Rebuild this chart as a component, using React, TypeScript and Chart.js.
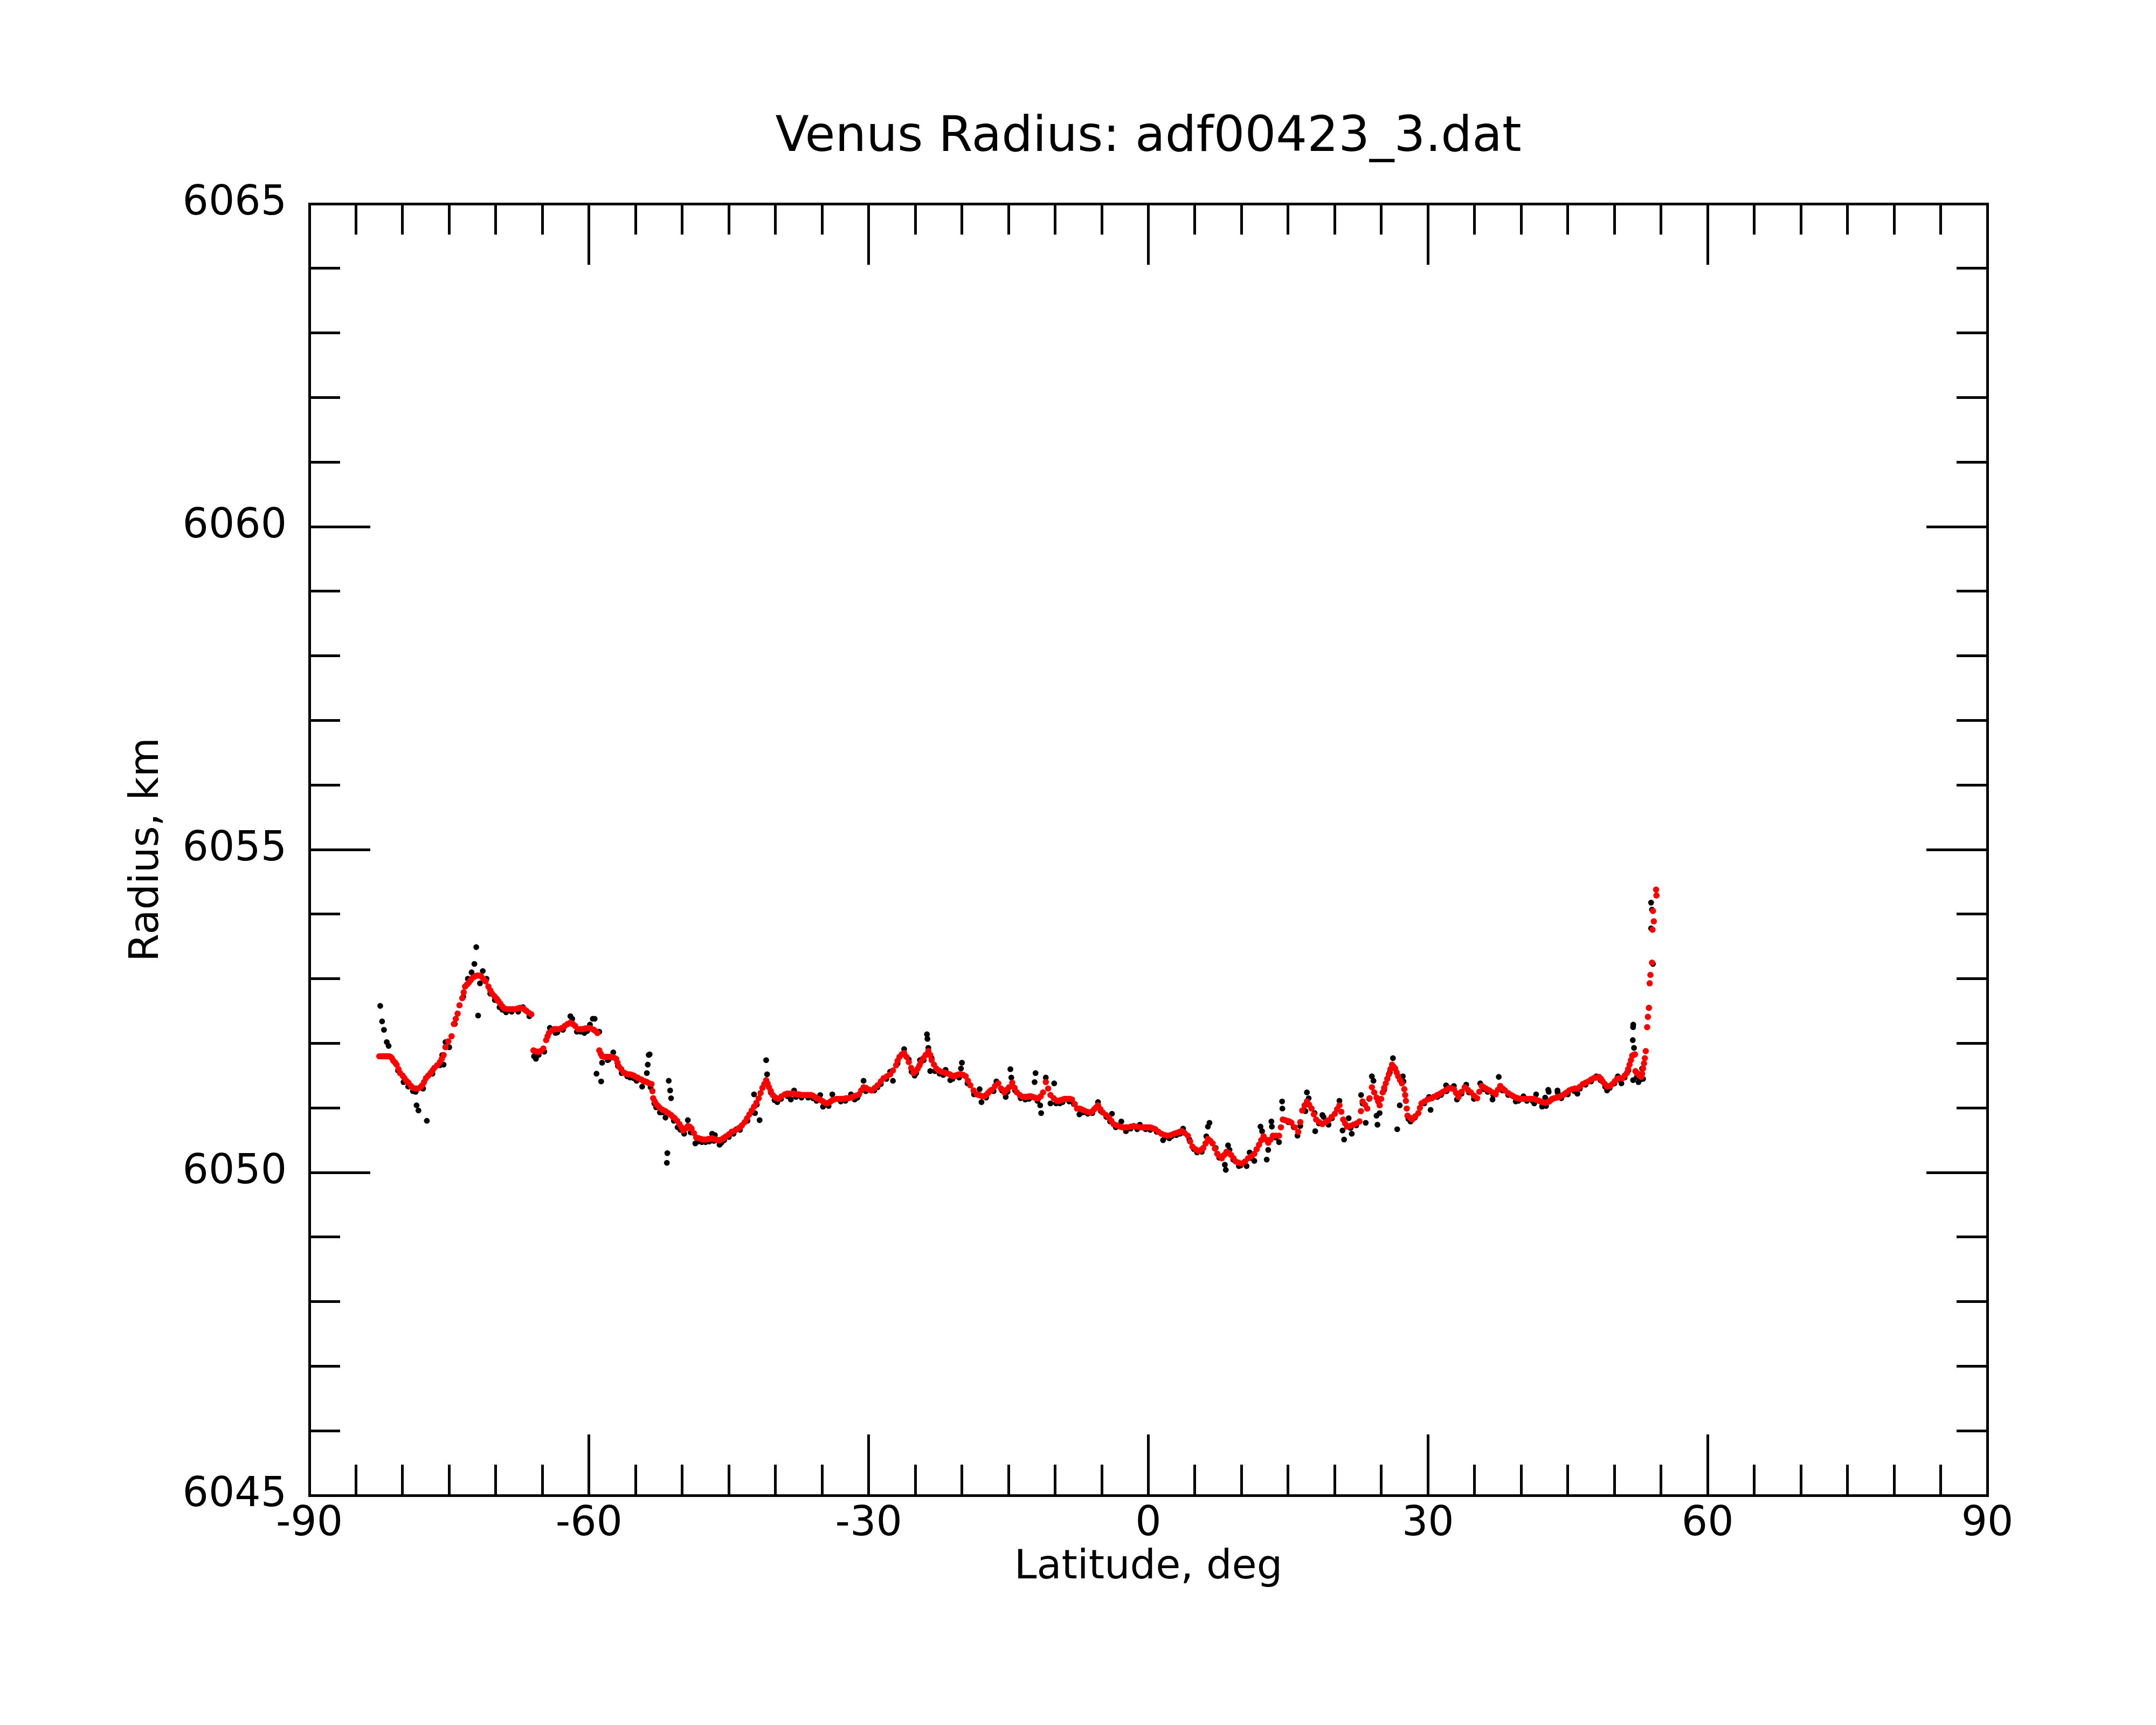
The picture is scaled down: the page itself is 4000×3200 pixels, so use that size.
import React, { useEffect, useRef } from 'react';
import { Chart, registerables } from 'chart.js';

Chart.register(...registerables);

const chartTitle = 'Venus Radius: adf00423_3.dat';
const xAxisTitle = 'Latitude, deg';
const yAxisTitle = 'Radius, km';

const xRange = [-90, 90];
const yRange = [6045, 6065];
const xMajorTicks = [-90, -60, -30, 0, 30, 60, 90];
const xMinorTicks = [-85, -80, -75, -70, -65, -55, -50, -45, -40, -35, -25, -20, -15, -10, -5, 5, 10, 15, 20, 25, 35, 40, 45, 50, 55, 65, 70, 75, 80, 85];
const yMajorTicks = [6045, 6050, 6055, 6060, 6065];
const yMinorTicks = [6046, 6047, 6048, 6049, 6051, 6052, 6053, 6054, 6056, 6057, 6058, 6059, 6061, 6062, 6063, 6064];

// smoothed radius (red), [latitude, radius]
const smoothedPoints: [number, number][] = [
  [-82.5, 6051.80], [-82.2, 6051.80], [-81.9, 6051.80], [-81.6, 6051.80], [-81.3, 6051.79], [-81.0, 6051.73],
  [-80.65, 6051.67], [-80.27, 6051.54], [-79.8, 6051.46], [-79.38, 6051.39], [-78.9, 6051.31], [-78.35, 6051.30],
  [-77.9, 6051.35], [-77.5, 6051.46], [-77.0, 6051.54], [-76.6, 6051.62], [-76.0, 6051.71], [-75.6, 6051.82],
  [-75.4, 6051.94], [-75.1, 6052.03], [-74.75, 6052.11], [-74.5, 6052.30], [-74.1, 6052.46], [-73.9, 6052.59],
  [-73.6, 6052.70], [-73.3, 6052.88], [-72.9, 6052.94], [-72.45, 6053.02], [-72.0, 6053.05], [-71.6, 6053.04],
  [-71.1, 6052.96], [-70.8, 6052.88], [-70.4, 6052.77], [-69.9, 6052.69], [-69.5, 6052.61], [-69.1, 6052.54],
  [-68.5, 6052.53], [-67.9, 6052.53], [-67.4, 6052.55], [-67.1, 6052.54], [-66.7, 6052.50], [-66.2, 6052.45],
  [-65.96, 6051.89], [-65.6, 6051.87], [-65.2, 6051.88], [-64.9, 6051.92], [-64.6, 6052.05], [-64.3, 6052.16],
  [-63.75, 6052.22], [-63.2, 6052.22], [-62.6, 6052.27], [-62.0, 6052.32], [-61.5, 6052.27], [-61.2, 6052.22],
  [-60.65, 6052.22], [-60.1, 6052.24], [-59.5, 6052.21], [-59.1, 6052.16], [-58.9, 6051.89], [-58.6, 6051.80],
  [-58.1, 6051.79], [-57.6, 6051.79], [-57.1, 6051.76], [-56.8, 6051.64], [-56.3, 6051.55], [-55.8, 6051.52],
  [-55.4, 6051.51], [-55.0, 6051.48], [-54.6, 6051.45], [-54.2, 6051.42], [-53.8, 6051.40], [-53.3, 6051.37],
  [-53.2, 6051.26], [-53.12, 6051.15], [-52.8, 6051.06], [-52.4, 6051.00], [-51.8, 6050.95], [-51.2, 6050.89],
  [-50.8, 6050.84], [-50.3, 6050.75], [-49.9, 6050.65], [-49.4, 6050.72], [-49.0, 6050.68], [-48.5, 6050.54],
  [-48.0, 6050.52], [-47.6, 6050.51], [-47.2, 6050.52], [-46.8, 6050.53], [-46.4, 6050.51], [-46.0, 6050.50],
  [-45.6, 6050.53], [-45.3, 6050.56], [-44.7, 6050.63], [-44.0, 6050.68], [-43.6, 6050.73], [-43.3, 6050.78],
  [-42.8, 6050.90], [-42.3, 6051.02], [-41.8, 6051.15], [-41.4, 6051.31], [-41.0, 6051.43], [-40.7, 6051.32],
  [-40.3, 6051.20], [-39.7, 6051.14], [-39.0, 6051.21], [-38.5, 6051.22], [-38.0, 6051.22], [-37.5, 6051.21],
  [-37.0, 6051.20], [-36.6, 6051.20], [-36.2, 6051.20], [-35.8, 6051.17], [-35.4, 6051.14], [-34.9, 6051.10],
  [-34.5, 6051.07], [-34.1, 6051.10], [-33.7, 6051.13], [-33.2, 6051.14], [-32.7, 6051.14], [-32.2, 6051.15],
  [-31.7, 6051.17], [-31.05, 6051.21], [-30.55, 6051.32], [-30.1, 6051.29], [-29.7, 6051.27], [-29.05, 6051.35],
  [-28.4, 6051.46], [-27.7, 6051.52], [-27.06, 6051.66], [-26.7, 6051.79], [-26.2, 6051.85], [-25.7, 6051.71],
  [-25.2, 6051.54], [-24.74, 6051.61], [-24.4, 6051.71], [-23.9, 6051.82], [-23.6, 6051.88], [-23.25, 6051.74],
  [-22.75, 6051.61], [-22.2, 6051.56], [-21.75, 6051.54], [-21.3, 6051.52], [-20.9, 6051.49], [-20.5, 6051.51],
  [-20.1, 6051.52], [-19.6, 6051.49], [-19.1, 6051.35], [-18.4, 6051.21], [-18.0, 6051.19], [-17.6, 6051.18],
  [-17.2, 6051.23], [-16.8, 6051.28], [-16.1, 6051.38], [-15.45, 6051.24], [-14.95, 6051.32], [-14.6, 6051.39],
  [-14.1, 6051.24], [-13.45, 6051.17], [-13.0, 6051.17], [-12.6, 6051.18], [-12.2, 6051.16], [-11.8, 6051.15],
  [-11.3, 6051.24], [-11.0, 6051.40], [-10.5, 6051.20], [-9.8, 6051.11], [-9.4, 6051.12], [-9.0, 6051.14],
  [-8.6, 6051.14], [-8.2, 6051.13], [-7.65, 6050.99], [-7.2, 6050.98], [-6.9, 6050.96], [-6.2, 6050.93],
  [-5.8, 6050.98], [-5.4, 6051.04], [-4.9, 6050.93], [-4.23, 6050.85], [-3.73, 6050.75], [-3.07, 6050.71],
  [-2.6, 6050.70], [-2.24, 6050.70], [-1.58, 6050.72], [-0.91, 6050.70], [-0.5, 6050.70], [-0.08, 6050.70],
  [0.35, 6050.69], [0.75, 6050.67], [1.41, 6050.60], [2.07, 6050.57], [2.74, 6050.60], [3.2, 6050.62],
  [3.57, 6050.64], [4.23, 6050.57], [4.73, 6050.40], [5.39, 6050.33], [5.89, 6050.38], [6.39, 6050.52],
  [6.89, 6050.45], [7.39, 6050.29], [7.88, 6050.22], [8.38, 6050.32], [8.88, 6050.27], [9.38, 6050.17],
  [10.04, 6050.14], [10.7, 6050.22], [11.37, 6050.29], [11.87, 6050.43], [12.36, 6050.56], [12.86, 6050.46],
  [13.36, 6050.57], [14.02, 6050.57], [14.42, 6050.82], [14.9, 6050.80], [15.35, 6050.77], [16.08, 6050.63],
  [16.51, 6050.96], [17.01, 6051.10], [17.5, 6050.99], [18.0, 6050.82], [18.67, 6050.75], [19.33, 6050.81],
  [20.0, 6050.91], [20.5, 6051.04], [20.9, 6050.82], [21.3, 6050.71], [21.99, 6050.74], [22.65, 6050.79],
  [22.98, 6051.10], [23.48, 6050.99], [23.98, 6051.32], [24.48, 6051.16], [24.81, 6051.04], [25.14, 6051.24],
  [25.47, 6051.38], [25.8, 6051.52], [26.14, 6051.67], [26.47, 6051.61], [26.8, 6051.49], [27.2, 6051.38],
  [27.46, 6051.29], [27.63, 6051.11], [27.8, 6050.88], [28.3, 6050.82], [28.96, 6050.92], [29.3, 6051.07],
  [29.95, 6051.13], [30.4, 6051.15], [30.78, 6051.18], [31.2, 6051.21], [31.61, 6051.25], [32.28, 6051.31],
  [32.78, 6051.29], [33.27, 6051.17], [33.94, 6051.32], [34.6, 6051.24], [35.27, 6051.15], [35.76, 6051.34],
  [36.2, 6051.30], [36.59, 6051.27], [37.26, 6051.21], [37.75, 6051.34], [38.25, 6051.27], [38.92, 6051.20],
  [39.4, 6051.16], [39.91, 6051.14], [40.4, 6051.14], [40.91, 6051.14], [41.4, 6051.14], [41.9, 6051.11],
  [42.3, 6051.09], [42.57, 6051.08], [43.0, 6051.10], [43.33, 6051.14], [43.8, 6051.16], [44.11, 6051.17],
  [44.5, 6051.20], [44.88, 6051.24], [45.45, 6051.29], [46.03, 6051.30], [46.61, 6051.37], [47.19, 6051.41],
  [47.77, 6051.46], [48.35, 6051.48], [48.73, 6051.41], [49.21, 6051.33], [49.79, 6051.37], [50.27, 6051.45],
  [50.85, 6051.46], [51.33, 6051.54], [51.62, 6051.67], [51.91, 6051.81], [52.2, 6051.83], [52.25, 6051.57],
  [52.49, 6051.53], [52.87, 6051.48], [53.07, 6051.61], [53.26, 6051.77], [53.36, 6051.88], [53.51, 6052.25],
  [53.59, 6052.41], [53.7, 6052.55], [53.78, 6052.93], [53.86, 6053.06], [54.03, 6053.25], [54.08, 6053.76],
  [54.13, 6054.05], [54.22, 6053.89], [54.47, 6054.38], [54.51, 6054.29],
];

// further smoothed samples read between the ones above (red)
const smoothedInBetween: [number, number][] = [
  [-82.35, 6051.80], [-82.05, 6051.80], [-81.75, 6051.80], [-81.45, 6051.80], [-81.15, 6051.77], [-80.8, 6051.70],
  [-80.45, 6051.60], [-80.0, 6051.50], [-79.6, 6051.42], [-79.1, 6051.34], [-78.6, 6051.30], [-78.1, 6051.32],
  [-77.7, 6051.40], [-77.25, 6051.50], [-76.8, 6051.58], [-76.3, 6051.66], [-75.8, 6051.76], [-74.3, 6052.38],
  [-73.45, 6052.79], [-73.1, 6052.91], [-72.7, 6052.98], [-72.2, 6053.04], [-71.8, 6053.05], [-71.35, 6053.00],
  [-70.6, 6052.82], [-70.15, 6052.73], [-69.7, 6052.65], [-69.3, 6052.57], [-68.8, 6052.53], [-68.2, 6052.53],
  [-67.65, 6052.54], [-66.9, 6052.52], [-66.45, 6052.47], [-65.8, 6051.88], [-65.4, 6051.87], [-64.45, 6052.11],
  [-64.0, 6052.20], [-63.5, 6052.22], [-62.9, 6052.24], [-62.3, 6052.30], [-61.75, 6052.30], [-60.9, 6052.22],
  [-60.4, 6052.23], [-59.8, 6052.23], [-59.3, 6052.19], [-58.75, 6051.84], [-58.35, 6051.79], [-57.85, 6051.79],
  [-57.35, 6051.78], [-56.95, 6051.70], [-56.55, 6051.60], [-56.05, 6051.53], [-55.6, 6051.52], [-55.2, 6051.50],
  [-54.8, 6051.47], [-54.4, 6051.44], [-54.0, 6051.41], [-53.55, 6051.38], [-52.95, 6051.10], [-52.6, 6051.03],
  [-52.1, 6050.97], [-51.5, 6050.92], [-51.0, 6050.86], [-50.55, 6050.80], [-50.1, 6050.70], [-49.65, 6050.68],
  [-49.2, 6050.71], [-48.75, 6050.61], [-48.25, 6050.53], [-47.8, 6050.51], [-47.4, 6050.51], [-47.0, 6050.52],
  [-46.6, 6050.52], [-46.2, 6050.50], [-45.8, 6050.51], [-45.45, 6050.54], [-45.0, 6050.59], [-44.35, 6050.65],
  [-43.8, 6050.70], [-43.05, 6050.84], [-42.55, 6050.96], [-42.05, 6051.08], [-41.6, 6051.23], [-41.2, 6051.37],
  [-40.85, 6051.38], [-40.5, 6051.26], [-40.0, 6051.16], [-39.35, 6051.18], [-38.75, 6051.22], [-38.25, 6051.22],
  [-37.75, 6051.21], [-37.25, 6051.20], [-36.8, 6051.20], [-36.4, 6051.20], [-36.0, 6051.19], [-35.6, 6051.15],
  [-35.15, 6051.12], [-34.7, 6051.08], [-34.3, 6051.08], [-33.9, 6051.12], [-33.45, 6051.14], [-32.95, 6051.14],
  [-32.45, 6051.15], [-31.95, 6051.16], [-31.4, 6051.19], [-30.8, 6051.27], [-30.3, 6051.31], [-29.9, 6051.28],
  [-29.35, 6051.31], [-28.7, 6051.41], [-28.05, 6051.49], [-27.4, 6051.58], [-26.9, 6051.73], [-26.45, 6051.83],
  [-25.95, 6051.79], [-25.45, 6051.62], [-24.95, 6051.57], [-24.55, 6051.66], [-24.15, 6051.77], [-23.4, 6051.82],
  [-23.0, 6051.67], [-22.5, 6051.58], [-21.95, 6051.55], [-21.5, 6051.53], [-21.1, 6051.50], [-20.7, 6051.50],
  [-20.3, 6051.52], [-19.85, 6051.51], [-19.35, 6051.42], [-18.75, 6051.27], [-18.2, 6051.20], [-17.8, 6051.18],
  [-17.4, 6051.20], [-17.0, 6051.26], [-16.45, 6051.34], [-15.8, 6051.30], [-15.2, 6051.28], [-14.35, 6051.31],
  [-13.8, 6051.20], [-13.2, 6051.17], [-12.8, 6051.18], [-12.4, 6051.17], [-12.0, 6051.15], [-11.55, 6051.18],
  [-10.75, 6051.30], [-10.15, 6051.15], [-9.6, 6051.11], [-9.2, 6051.13], [-8.8, 6051.14], [-8.4, 6051.14],
  [-7.9, 6051.06], [-7.4, 6050.99], [-6.55, 6050.94], [-6.0, 6050.95], [-5.6, 6051.01], [-5.15, 6050.98],
  [-4.55, 6050.89], [-3.98, 6050.80], [-3.4, 6050.73], [-2.8, 6050.70], [-2.4, 6050.70], [-1.9, 6050.71],
  [-1.25, 6050.71], [-0.7, 6050.70], [-0.3, 6050.70], [0.15, 6050.70], [0.55, 6050.68], [1.08, 6050.63],
  [1.74, 6050.58], [2.4, 6050.58], [2.97, 6050.61], [3.38, 6050.63], [3.9, 6050.61], [4.48, 6050.48],
  [5.06, 6050.36], [5.64, 6050.35], [6.14, 6050.45], [6.64, 6050.49], [7.14, 6050.37], [7.63, 6050.25],
  [8.13, 6050.27], [8.63, 6050.30], [9.13, 6050.22], [9.7, 6050.15], [10.37, 6050.17], [11.03, 6050.25],
  [11.62, 6050.36], [12.11, 6050.50], [12.61, 6050.51], [13.11, 6050.51], [13.7, 6050.57], [14.22, 6050.70],
  [14.65, 6050.81], [15.12, 6050.79], [15.7, 6050.70], [16.3, 6050.78], [16.76, 6051.04], [17.25, 6051.05],
  [17.75, 6050.90], [18.33, 6050.78], [19.0, 6050.78], [19.66, 6050.86], [20.25, 6050.98], [20.7, 6050.94],
  [21.1, 6050.76], [21.65, 6050.72], [22.32, 6050.76], [22.8, 6050.95], [23.23, 6051.05], [23.73, 6051.15],
  [24.23, 6051.24], [24.65, 6051.10], [24.98, 6051.14], [25.3, 6051.31], [25.63, 6051.45], [25.97, 6051.60],
  [26.3, 6051.64], [26.63, 6051.55], [27.0, 6051.43], [27.55, 6051.20], [27.72, 6050.99], [28.05, 6050.85],
  [28.63, 6050.87], [29.13, 6051.00], [29.62, 6051.10], [30.17, 6051.14], [30.6, 6051.17], [31.0, 6051.20],
  [31.4, 6051.23], [31.95, 6051.28], [32.53, 6051.30], [33.02, 6051.23], [33.6, 6051.25], [34.27, 6051.28],
  [34.93, 6051.19], [35.5, 6051.25], [35.98, 6051.32], [36.4, 6051.28], [36.92, 6051.24], [37.5, 6051.28],
  [38.0, 6051.30], [38.6, 6051.23], [39.15, 6051.18], [39.65, 6051.15], [40.15, 6051.14], [40.65, 6051.14],
  [41.15, 6051.14], [41.65, 6051.12], [42.1, 6051.10], [42.8, 6051.09], [43.15, 6051.12], [43.55, 6051.15],
  [43.95, 6051.17], [44.3, 6051.19], [44.7, 6051.22], [45.15, 6051.27], [45.75, 6051.30], [46.3, 6051.33],
  [46.9, 6051.39], [47.5, 6051.44], [48.05, 6051.47], [48.55, 6051.45], [48.97, 6051.37], [49.5, 6051.34],
  [50.03, 6051.41], [50.56, 6051.46], [51.1, 6051.50], [51.47, 6051.60], [51.77, 6051.74], [52.05, 6051.82],
  [52.37, 6051.55], [52.68, 6051.50], [52.97, 6051.53], [53.17, 6051.69],
];

// raw radius samples along the track, mostly just under the smoothed curve (black)
const rawTrackPoints: [number, number][] = [
  [-80.5, 6051.58], [-79.9, 6051.40], [-79.4, 6051.33], [-78.9, 6051.26], [-78.6, 6051.25], [-77.8, 6051.30],
  [-76.8, 6051.53], [-76.0, 6051.66], [-74.4, 6052.30], [-73.5, 6052.72], [-70.6, 6052.77], [-70.1, 6052.67],
  [-69.3, 6052.52], [-68.3, 6052.49], [-67.6, 6052.49], [-66.4, 6052.42], [-65.4, 6051.82], [-64.8, 6051.87],
  [-63.4, 6052.17], [-62.8, 6052.21], [-60.9, 6052.18], [-60.2, 6052.19], [-57.9, 6051.75], [-56.9, 6051.65],
  [-56.5, 6051.54], [-55.6, 6051.47], [-55.2, 6051.46], [-54.9, 6051.42], [-53.4, 6051.32], [-53.0, 6051.07],
  [-52.1, 6050.93], [-50.9, 6050.80], [-50.5, 6050.70], [-50.2, 6050.66], [-49.1, 6050.62], [-48.3, 6050.48],
  [-47.9, 6050.47], [-47.5, 6050.47], [-47.1, 6050.48], [-46.6, 6050.49], [-45.8, 6050.46], [-45.5, 6050.50],
  [-45.0, 6050.55], [-44.5, 6050.60], [-43.8, 6050.66], [-43.0, 6050.80], [-42.0, 6051.05], [-40.5, 6051.24],
  [-40.1, 6051.12], [-39.4, 6051.14], [-38.7, 6051.18], [-37.8, 6051.17], [-37.2, 6051.16], [-36.5, 6051.16],
  [-36.0, 6051.15], [-35.6, 6051.11], [-34.3, 6051.03], [-33.0, 6051.10], [-32.5, 6051.11], [-31.5, 6051.13],
  [-31.2, 6051.16], [-30.3, 6051.26], [-29.4, 6051.27], [-28.7, 6051.37], [-28.1, 6051.45], [-26.9, 6051.69],
  [-25.4, 6051.56], [-24.9, 6051.54], [-24.1, 6051.74], [-22.9, 6051.57], [-22.4, 6051.53], [-22.0, 6051.51],
  [-21.0, 6051.45], [-20.3, 6051.47], [-19.4, 6051.38], [-18.7, 6051.21], [-17.4, 6051.16], [-16.6, 6051.26],
  [-15.7, 6051.27], [-15.1, 6051.25], [-14.3, 6051.27], [-13.7, 6051.15], [-13.2, 6051.13], [-12.8, 6051.14],
  [-11.9, 6051.11], [-9.9, 6051.07], [-9.2, 6051.09], [-8.5, 6051.10], [-8.0, 6051.06], [-7.0, 6050.93],
  [-6.5, 6050.91], [-6.0, 6050.92], [-5.1, 6050.95], [-4.5, 6050.86], [-4.1, 6050.79], [-3.5, 6050.70],
  [-1.9, 6050.68], [-1.2, 6050.67], [-0.3, 6050.67], [0.2, 6050.66], [0.9, 6050.63], [1.8, 6050.55],
  [2.5, 6050.56], [3.0, 6050.58], [3.4, 6050.60], [4.4, 6050.51], [4.9, 6050.36], [7.6, 6050.23],
  [9.1, 6050.20], [9.9, 6050.11], [11.1, 6050.22], [11.6, 6050.36], [13.7, 6050.54], [15.6, 6050.70],
  [16.3, 6050.72], [18.3, 6050.76], [19.7, 6050.84], [21.7, 6050.69], [22.3, 6050.73], [23.7, 6051.14],
  [25.3, 6051.28], [25.9, 6051.55], [27.9, 6050.83], [28.6, 6050.85], [29.6, 6051.07], [31.0, 6051.17],
  [31.4, 6051.20], [32.0, 6051.26], [33.6, 6051.22], [34.4, 6051.24], [35.0, 6051.16], [36.0, 6051.29],
  [36.4, 6051.25], [37.0, 6051.20], [38.0, 6051.27], [38.6, 6051.20], [39.7, 6051.11], [40.6, 6051.11],
  [41.2, 6051.11], [44.3, 6051.15], [45.0, 6051.21], [45.7, 6051.26], [46.3, 6051.30], [46.9, 6051.36],
  [47.5, 6051.41], [48.5, 6051.43], [49.0, 6051.33], [49.5, 6051.31], [50.0, 6051.38], [50.6, 6051.43],
  [51.1, 6051.47], [51.5, 6051.58], [52.4, 6051.48], [52.8, 6051.44],
];

// raw radius samples that stand off the track (black)
const rawScatterPoints: [number, number][] = [
  [-82.4, 6052.58], [-82.2, 6052.34], [-82.0, 6052.21], [-81.7, 6052.02], [-81.5, 6051.96], [-78.5, 6051.04],
  [-78.3, 6050.96], [-77.4, 6050.80], [-75.75, 6051.82], [-75.6, 6051.67], [-75.4, 6052.02], [-75.0, 6051.94],
  [-73.0, 6053.00], [-72.6, 6053.10], [-72.3, 6053.23], [-72.1, 6053.49], [-71.9, 6052.43], [-71.7, 6052.93],
  [-71.4, 6053.12], [-71.0, 6053.00], [-69.6, 6052.56], [-68.9, 6052.48], [-67.1, 6052.56], [-65.9, 6051.80],
  [-65.7, 6051.76], [-64.2, 6052.24], [-63.6, 6052.16], [-62.0, 6052.42], [-61.8, 6052.38], [-61.3, 6052.18],
  [-60.5, 6052.16], [-59.9, 6052.29], [-59.6, 6052.38], [-59.4, 6052.38], [-58.9, 6052.18], [-59.2, 6051.53],
  [-58.7, 6051.41], [-58.6, 6051.70], [-58.0, 6051.74], [-57.4, 6051.86], [-55.9, 6051.49], [-54.3, 6051.33],
  [-53.8, 6051.54], [-53.6, 6051.82], [-53.7, 6051.67], [-53.5, 6051.83], [-52.8, 6051.01], [-52.4, 6050.93],
  [-51.8, 6050.85], [-51.45, 6051.42], [-51.3, 6051.27], [-51.2, 6051.15], [-51.6, 6050.30], [-51.65, 6050.15],
  [-49.8, 6050.60], [-49.4, 6050.81], [-48.6, 6050.45], [-46.8, 6050.60], [-46.5, 6050.58], [-46.0, 6050.43],
  [-44.2, 6050.67], [-42.3, 6051.21], [-42.2, 6050.92], [-41.7, 6050.81], [-41.0, 6051.74], [-40.9, 6051.52],
  [-39.8, 6051.09], [-38.35, 6051.13], [-38.0, 6051.27], [-35.2, 6051.20], [-34.9, 6051.02], [-33.9, 6051.21],
  [-31.9, 6051.21], [-30.55, 6051.42], [-29.05, 6051.32], [-27.7, 6051.56], [-27.4, 6051.42], [-26.2, 6051.91],
  [-25.7, 6051.75], [-25.07, 6051.50], [-24.5, 6051.74], [-23.75, 6052.14], [-23.7, 6052.07], [-23.6, 6051.93],
  [-23.4, 6051.57], [-23.25, 6051.77], [-21.75, 6051.59], [-21.25, 6051.43], [-20.0, 6051.70], [-20.1, 6051.61],
  [-18.1, 6051.29], [-17.9, 6051.09], [-16.3, 6051.41], [-15.3, 6051.17], [-14.8, 6051.60], [-14.7, 6051.47],
  [-12.1, 6051.54], [-12.2, 6051.40], [-11.6, 6051.04], [-11.5, 6050.92], [-11.0, 6051.47], [-10.1, 6051.38],
  [-10.5, 6051.07], [-9.5, 6051.07], [-7.4, 6050.90], [-5.4, 6051.09], [-3.9, 6050.91], [-2.9, 6050.79],
  [-2.4, 6050.64], [-0.91, 6050.74], [1.58, 6050.50], [2.24, 6050.53], [3.73, 6050.68], [5.23, 6050.31],
  [5.73, 6050.32], [6.22, 6050.56], [6.56, 6050.77], [6.39, 6050.71], [7.22, 6050.38], [8.21, 6050.12],
  [8.31, 6050.04], [8.55, 6050.42], [8.71, 6050.35], [9.71, 6050.10], [10.54, 6050.10], [10.87, 6050.31],
  [11.37, 6050.18], [12.03, 6050.71], [12.2, 6050.64], [12.86, 6050.35], [12.7, 6050.20], [13.2, 6050.79],
  [13.25, 6050.71], [14.02, 6050.47], [14.35, 6051.10], [14.38, 6050.99], [15.0, 6050.78], [16.0, 6050.57],
  [17.01, 6051.24], [17.2, 6051.15], [16.85, 6050.95], [17.84, 6050.92], [17.9, 6050.64], [18.67, 6050.89],
  [18.8, 6050.86], [19.33, 6050.74], [20.5, 6051.11], [20.83, 6050.65], [21.0, 6050.51], [21.49, 6050.84],
  [21.82, 6050.60], [22.82, 6051.20], [22.98, 6051.07], [23.32, 6050.77], [23.98, 6051.49], [24.15, 6051.42],
  [24.48, 6050.88], [24.58, 6050.74], [24.81, 6050.92], [26.24, 6051.77], [27.3, 6051.49], [27.37, 6051.41],
  [26.97, 6051.04], [26.7, 6050.67], [28.13, 6050.79], [30.12, 6051.17], [30.28, 6050.97], [31.94, 6051.35],
  [32.78, 6051.34], [33.11, 6051.13], [34.1, 6051.36], [34.93, 6051.14], [35.6, 6051.38], [36.92, 6051.13],
  [37.59, 6051.48], [39.41, 6051.10], [40.24, 6051.18], [41.4, 6051.07], [41.6, 6051.21], [42.24, 6051.02],
  [42.27, 6051.03], [42.66, 6051.03], [42.57, 6051.16], [42.95, 6051.25], [42.9, 6051.28], [43.91, 6051.24],
  [43.89, 6051.27], [46.03, 6051.22], [48.06, 6051.49], [49.21, 6051.27], [50.37, 6051.49], [50.75, 6051.38],
  [52.0, 6052.25], [52.02, 6052.29], [51.97, 6052.05], [52.1, 6051.93], [52.0, 6051.43], [52.58, 6051.40],
  [53.07, 6051.45], [52.97, 6051.61], [53.93, 6054.18], [54.03, 6054.07], [53.93, 6053.78], [54.13, 6053.23],
];

export default function App() {
  const canvasRef = useRef<HTMLCanvasElement>(null);

  useEffect(() => {
    const canvas = canvasRef.current;
    if (!canvas) return;
    Chart.defaults.font.family = "'DejaVu Sans', sans-serif";
    Chart.defaults.color = '#000';

    const toXY = (arr: [number, number][]) => arr.map(([x, y]) => ({ x, y }));
    const useTicks = (vals: number[]) => (scale: any) => {
      scale.ticks = vals.map((v) => ({ value: v }));
    };

    const tickAxis = (axis: 'x' | 'y', position: string, vals: number[], length: number, showBorder: boolean) => ({
      type: 'linear',
      axis,
      position,
      min: axis === 'x' ? xRange[0] : yRange[0],
      max: axis === 'x' ? xRange[1] : yRange[1],
      weight: 0,
      afterBuildTicks: useTicks(vals),
      ticks: { display: false, maxTicksLimit: 1000 },
      grid: {
        display: true,
        drawOnChartArea: false,
        drawTicks: true,
        tickLength: -length,
        tickWidth: 5,
        tickColor: '#000',
        lineWidth: 5,
        color: '#000',
      },
      border: { display: showBorder, color: '#000', width: 5 },
      afterFit: (s: any) => {
        if (axis === 'x') s.height = 0;
        else s.width = 0;
      },
    });

    const chart = new Chart(canvas, {
      type: 'scatter',
      data: {
        datasets: [
          {
            label: 'smoothed',
            data: toXY([...smoothedPoints, ...smoothedInBetween]),
            backgroundColor: '#ff0000',
            pointRadius: 5.8,
            pointBorderWidth: 0,
            showLine: false,
          },
          {
            label: 'raw',
            data: toXY([...rawTrackPoints, ...rawScatterPoints]),
            backgroundColor: '#000000',
            pointRadius: 5.4,
            pointBorderWidth: 0,
            showLine: false,
          },
        ],
      },
      options: {
        animation: false,
        responsive: false,
        devicePixelRatio: 1,
        events: [],
        layout: { padding: { left: 0, right: 313, top: 0, bottom: 0 } },
        plugins: {
          legend: { display: false },
          tooltip: { enabled: false },
          title: {
            display: true,
            text: chartTitle,
            fullSize: false,
            color: '#000',
            font: { size: 91, weight: 'normal' },
            padding: { top: 202, bottom: 67 },
          },
        },
        scales: {
          x: {
            type: 'linear',
            position: 'bottom',
            min: xRange[0],
            max: xRange[1],
            weight: 1,
            afterBuildTicks: useTicks(xMajorTicks),
            ticks: {
              color: '#000',
              font: { size: 76 },
              padding: 9,
              maxRotation: 0,
              minRotation: 0,
              autoSkip: false,
              callback: (v: any) => String(v),
            },
            grid: { display: true, drawOnChartArea: false, drawTicks: false },
            border: { display: true, color: '#000', width: 5 },
            title: {
              display: true,
              text: xAxisTitle,
              color: '#000',
              font: { size: 75 },
              padding: { top: 0, bottom: 246 },
            },
            afterFit: (s: any) => {
              s.height = 426;
            },
          },
          y: {
            type: 'linear',
            position: 'left',
            min: yRange[0],
            max: yRange[1],
            weight: 1,
            afterBuildTicks: useTicks(yMajorTicks),
            ticks: {
              color: '#000',
              font: { size: 76 },
              padding: 42,
              autoSkip: false,
              callback: (v: any) => String(v),
            },
            grid: { display: true, drawOnChartArea: false, drawTicks: false },
            border: { display: true, color: '#000', width: 5 },
            title: {
              display: true,
              text: yAxisTitle,
              color: '#000',
              font: { size: 75 },
              padding: { top: 229, bottom: 0 },
            },
            afterFit: (s: any) => {
              s.width = 574;
            },
          },
          xBottomMajor: tickAxis('x', 'bottom', xMajorTicks, 113, false),
          xBottomMinor: tickAxis('x', 'bottom', xMinorTicks, 57, false),
          xTopMajor: tickAxis('x', 'top', xMajorTicks, 113, true),
          xTopMinor: tickAxis('x', 'top', xMinorTicks, 57, false),
          yLeftMajor: tickAxis('y', 'left', yMajorTicks, 113, false),
          yLeftMinor: tickAxis('y', 'left', yMinorTicks, 57, false),
          yRightMajor: tickAxis('y', 'right', yMajorTicks, 113, true),
          yRightMinor: tickAxis('y', 'right', yMinorTicks, 57, false),
        } as any,
      },
    } as any);

    return () => {
      chart.destroy();
    };
  }, []);

  return (
    <div style={{ position: 'fixed', left: 0, top: 0, width: 4000, height: 3200, background: '#fff' }}>
      <canvas ref={canvasRef} width={4000} height={3200} style={{ width: 4000, height: 3200, display: 'block' }} />
    </div>
  );
}
